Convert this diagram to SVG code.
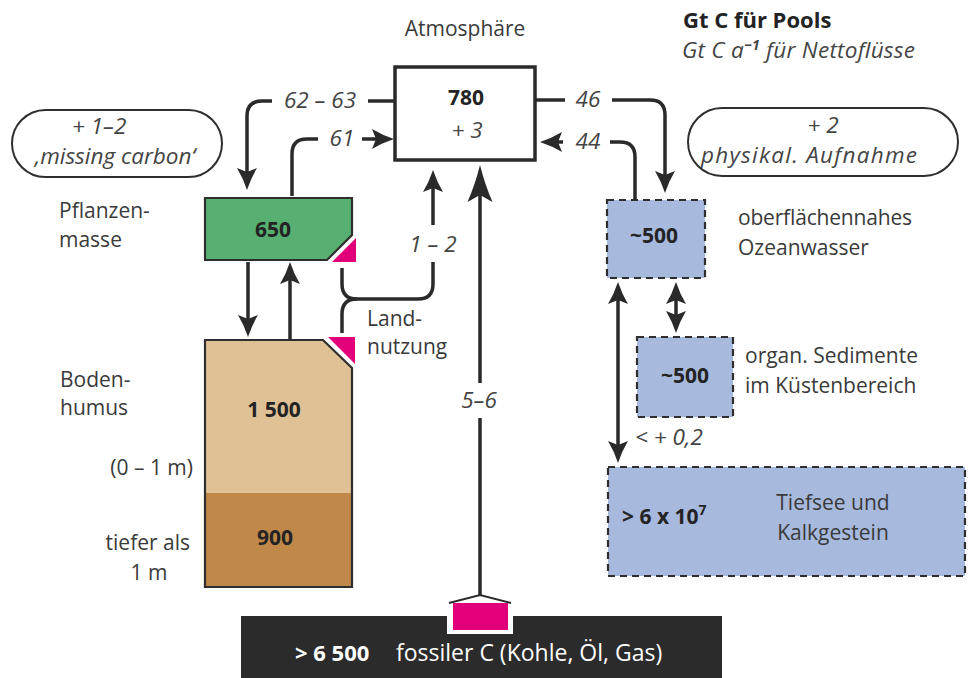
<svg xmlns="http://www.w3.org/2000/svg" width="968" height="678" viewBox="0 0 968 678">
<style>
text{font-family:"Open Sans","Noto Sans","Liberation Sans",sans-serif;font-size:21px;fill:#3a3a3a}
.b{font-weight:bold;fill:#232323}
.i{font-style:italic;fill:#444;font-size:22.5px}
.w{fill:#fff}
.m{text-anchor:middle}
.e{text-anchor:end}
.ln{fill:none;stroke:#2a2a2a;stroke-width:3.5}
.box{stroke:#2e2e2e;stroke-width:2.2}
.dash{fill:#a7b9dd;stroke:#2e2e2e;stroke-width:2.2;stroke-dasharray:7 5}
.mag{fill:#e2007a}
.pill{fill:#fff;stroke:#2e2e2e;stroke-width:2}
</style>
<defs>
<marker id="ah" markerUnits="userSpaceOnUse" viewBox="-30 -15 40 30" markerWidth="40" markerHeight="30" refX="-8" refY="0" orient="auto-start-reverse" overflow="visible">
<path d="M0,0 Q-12,-4 -22,-10 L-18,0 L-22,10 Q-12,4 0,0 Z" fill="#2a2a2a"/>
</marker>
<marker id="ahb" markerUnits="userSpaceOnUse" viewBox="-45 -20 55 40" markerWidth="55" markerHeight="40" refX="-8" refY="0" orient="auto" overflow="visible">
<path d="M0,0 Q-20,-5 -37,-12.5 L-30,0 L-37,12.5 Q-20,5 0,0 Z" fill="#2a2a2a"/>
</marker>
</defs>

<!-- headers -->
<text x="465" y="36" class="m">Atmosphäre</text>
<text x="683" y="28" class="b" style="font-size:22px">Gt C für Pools</text>
<text x="682" y="58" class="i" textLength="233">Gt C a<tspan dy="-8" style="font-size:14px;font-weight:bold">−1</tspan><tspan dy="8"> für Nettoflüsse</tspan></text>

<!-- atmosphere -->
<g id="atmosphaere">
<rect x="395" y="67" width="140" height="93" fill="#fff" stroke="#2a2a2a" stroke-width="3.5"/>
<text x="466" y="105" class="b m">780</text>
<text x="467" y="138" class="i m">+ 3</text>
</g>

<!-- missing carbon pill -->
<g id="missing-carbon">
<rect x="12" y="110" width="210" height="67" rx="33.5" class="pill"/>
<text x="72" y="134" class="i">+  1–2</text>
<text x="115" y="164" class="i m">‚missing carbon‘</text>
</g>

<!-- physikal. Aufnahme pill -->
<g id="physikal-aufnahme">
<rect x="688" y="108" width="270" height="68" rx="34" class="pill"/>
<text x="823" y="133" class="i m">+ 2</text>
<text x="809" y="163" class="i m" textLength="216">physikal. Aufnahme</text>
</g>

<!-- plant mass -->
<g id="pflanzenmasse">
<path d="M205,198 H352 V235 L327,260 H205 Z" fill="#57b071" class="box"/>
<polygon points="356,238 356,262 332,262" class="mag"/>
<text x="273" y="237" class="b m">650</text>
<text x="59" y="218">Pflanzen-</text>
<text x="59" y="247">masse</text>
</g>

<!-- soil humus -->
<g id="bodenhumus">
<path d="M205,340 H323 L352,368 V493 H205 Z" fill="#dfc195"/>
<rect x="205" y="493" width="147" height="94" fill="#c0894a"/>
<path d="M205,340 H323 L352,368 V587 H205 Z" fill="none" class="box"/>
<polygon points="328,337 355,337 355,364" class="mag"/>
<text x="274" y="417" class="b m">1 500</text>
<text x="275" y="545" class="b m">900</text>
<text x="60" y="387">Boden-</text>
<text x="60" y="415">humus</text>
<text x="193" y="475" class="e">(0 – 1 m)</text>
<text x="190" y="550" class="e">tiefer als</text>
<text x="149" y="580" class="m">1 m</text>
</g>

<!-- land use label -->
<g id="landnutzung">
<text x="367" y="326">Land-</text>
<text x="367" y="354">nutzung</text>
</g>

<!-- ocean surface -->
<g id="ozeanwasser">
<rect x="607" y="200" width="98" height="78" class="dash"/>
<text x="654" y="243" class="b m">~500</text>
<text x="738" y="225" textLength="174">oberflächennahes</text>
<text x="738" y="255">Ozeanwasser</text>
</g>

<!-- coastal sediments -->
<g id="sedimente">
<rect x="637" y="337" width="96" height="80" class="dash"/>
<text x="685" y="383" class="b m">~500</text>
<text x="745" y="363">organ. Sedimente</text>
<text x="745" y="393">im Küstenbereich</text>
</g>

<!-- deep sea -->
<g id="tiefsee">
<rect x="608" y="467" width="357" height="109" class="dash"/>
<text x="622" y="524" class="b">&gt; 6 x 10<tspan dy="-9" style="font-size:14px">7</tspan></text>
<text x="833" y="510" class="m">Tiefsee und</text>
<text x="833" y="540" class="m">Kalkgestein</text>
</g>

<!-- fossil -->
<g id="fossil">
<path d="M241,616 H447 V634 H513 V616 H722 V678 H241 Z" fill="#2b2b2b"/>
<rect x="453" y="603" width="55" height="27" class="mag"/>
<polyline points="449,603 480,595 511,603" fill="none" stroke="#2a2a2a" stroke-width="2"/>
<text x="295" y="661" class="b w" style="font-size:22px">&gt; 6 500</text>
<text x="396" y="661" class="w" style="font-size:23px">fossiler C (Kohle, Öl, Gas)</text>
</g>

<!-- connectors -->
<g id="connectors">
<path class="ln" d="M395,101 H368"/>
<path class="ln" d="M272,101 H262 Q247,101 247,116 V182" marker-end="url(#ah)"/>
<path class="ln" d="M292,196 V154 Q292,139 307,139 H318"/>
<path class="ln" d="M362,139 H386" marker-end="url(#ah)"/>
<path class="ln" d="M535,100 H565"/>
<path class="ln" d="M612,100 H650 Q665,100 665,115 V185" marker-end="url(#ah)"/>
<path class="ln" d="M635,200 V157 Q635,142 620,142 H610"/>
<path class="ln" d="M563,142 H548" marker-end="url(#ah)"/>
<path class="ln" d="M248,262 V329" marker-end="url(#ah)"/>
<path class="ln" d="M290,340 V270" marker-end="url(#ah)"/>
<path class="ln" d="M342,268 V284 Q342,299 357,299 H418 Q433,299 433,284 V262"/>
<path class="ln" d="M342,333 V314 Q342,299 357,299"/>
<path class="ln" d="M433,225 V178" marker-end="url(#ah)"/>
<path class="ln" d="M480,596 V418"/>
<path class="ln" d="M480,383 V173" marker-end="url(#ahb)"/>
<path class="ln" d="M676,290 V325" marker-start="url(#ah)" marker-end="url(#ah)"/>
<path class="ln" d="M618,290 V455" marker-start="url(#ah)" marker-end="url(#ah)"/>
<text x="320" y="108" class="i m">62 – 63</text>
<text x="342" y="146" class="i m">61</text>
<text x="588" y="107" class="i m">46</text>
<text x="588" y="149" class="i m">44</text>
<text x="433" y="252" class="i m">1 – 2</text>
<text x="479" y="408" class="i m">5–6</text>
<text x="635" y="445" class="i">&lt; + 0,2</text>
</g>
</svg>
